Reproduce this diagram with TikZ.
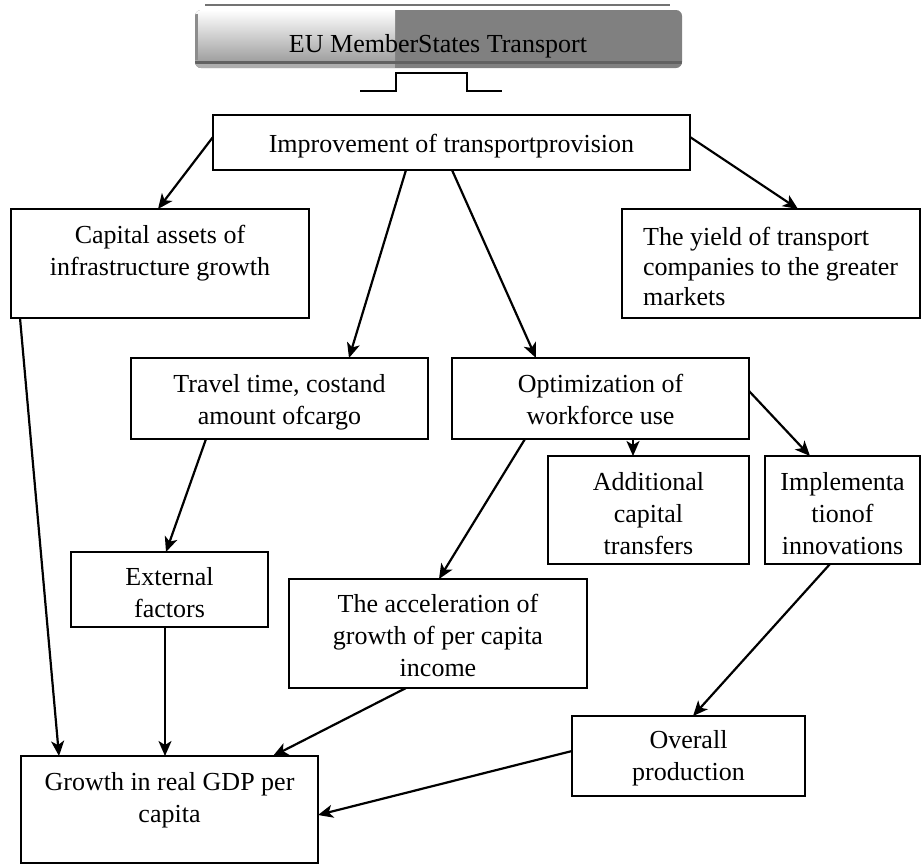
\documentclass[tikz,border=0pt]{standalone}
\usepackage{fontspec}
\setmainfont{Liberation Serif}
\usetikzlibrary{arrows.meta,calc}
\tikzset{
  box/.style={draw=black, line width=2.2pt, inner sep=0pt, outer sep=0pt},
  txt/.style={inner sep=0pt, align=center, font=\fontsize{26}{32}\selectfont},
  txtl/.style={inner sep=0pt, align=left, font=\fontsize{26}{30}\selectfont},
  arr/.style={line width=2.2pt, -{Stealth[length=15pt,width=13pt,inset=4pt]}},
}
\newcommand{\mkbox}[5]{\node[box, minimum width={#4-#2}, minimum height={#5-#3}] (#1) at ({(#2+#4)/2},{(#3+#5)/2}) {};}
\begin{document}
\begin{tikzpicture}[x=1pt,y=-1pt]
\useasboundingbox (0,0) rectangle (922,865);
% banner
\draw[line width=2.2pt, black!55] (205,5) -- (670,5);
\fill[black!50, rounded corners=6pt] (195,10) rectangle (682,68);
\begin{scope}
  \clip[rounded corners=6pt] (195,10) rectangle (682,68);
  \shade[top color=white, bottom color=black!38] (195,10) rectangle (395,62);
  \fill[black!32] (195,62) rectangle (395,68);
  \fill[black!62] (195,61) rectangle (682,64);
  \fill[black!45] (195,14) rectangle (198,60);
\end{scope}
\node[txt, anchor=base] (banner) at (438,52) {EU MemberStates Transport};
\draw[line width=2.2pt] (360,91) -- (396,91) -- (396,73) -- (467,73) -- (467,91) -- (502,91);
% boxes
\mkbox{imp}{213}{115}{690}{170}
\mkbox{cap}{11}{209}{309}{318}
\mkbox{yield}{622}{209}{920}{318}
\mkbox{travel}{131}{358}{428}{439}
\mkbox{opt}{452}{358}{749}{439}
\mkbox{add}{548}{456}{749}{564}
\mkbox{impl}{765}{456}{920}{564}
\mkbox{ext}{71}{552}{268}{627}
\mkbox{acc}{289}{579}{587}{688}
\mkbox{over}{572}{716}{805}{796}
\mkbox{growth}{21}{756}{318}{863}
% texts
\node[txt, anchor=base] (impT) at ($(imp.north)+(0,37)$) {Improvement of transportprovision};
\node[txt, anchor=north] (capT) at ($(cap.north)+(0,16)$) {Capital assets of\\infrastructure growth};
\node[txtl, anchor=north west] (yieldT) at ($(yield.north west)+(21,18)$) {The yield of transport\\companies to the greater\\markets};
\node[txt, anchor=north] (travelT) at ($(travel.north)+(0,16)$) {Travel time, costand\\amount ofcargo};
\node[txt, anchor=north] (optT) at ($(opt.north)+(0,16)$) {Optimization of\\workforce use};
\node[txt, anchor=north] (addT) at ($(add.north)+(0,16)$) {Additional\\capital\\transfers};
\node[txt, anchor=north] (implT) at ($(impl.north)+(0,16)$) {Implementa\\tionof\\innovations};
\node[txt, anchor=north] (extT) at ($(ext.north)+(0,15)$) {External\\factors};
\node[txt, anchor=north] (accT) at ($(acc.north)+(0,15)$) {The acceleration of\\growth of per capita\\income};
\node[txt, anchor=north] (overT) at ($(over.north)+(0,14)$) {Overall\\production};
\node[txt, anchor=north] (growthT) at ($(growth.north)+(0,16)$) {Growth in real GDP per\\capita};
% connectors
\draw[arr] ($(imp.north west)+(0,22)$) -- ($(cap.north west)+(147,0)$);
\draw[arr] ($(imp.south west)+(193,0)$) -- ($(travel.north west)+(218,0)$);
\draw[arr] ($(imp.south west)+(239,0)$) -- ($(opt.north west)+(84,0)$);
\draw[arr] ($(imp.north east)+(0,22)$) -- ($(yield.north west)+(176,0)$);
\draw[arr] ($(cap.south west)+(9,0)$) -- ($(growth.north west)+(38,0)$);
\draw[arr] ($(travel.south west)+(75,0)$) -- ($(ext.north west)+(95,0)$);
\draw[arr] ($(ext.south west)+(94,0)$) -- ($(growth.north west)+(144,0)$);
\draw[arr] ($(opt.south west)+(73,0)$) -- ($(acc.north west)+(150,0)$);
\draw[arr] ($(opt.south west)+(181,0)$) -- ($(add.north west)+(85,0)$);
\draw[arr] ($(opt.north east)+(0,33)$) -- ($(impl.north west)+(45,0)$);
\draw[arr] ($(impl.south west)+(65,0)$) -- ($(over.north west)+(121,0)$);
\draw[arr] ($(acc.south west)+(117,0)$) -- ($(growth.north west)+(252,0)$);
\draw[arr] ($(over.north west)+(0,35)$) -- ($(growth.north east)+(0,59)$);
\end{tikzpicture}
\end{document}
